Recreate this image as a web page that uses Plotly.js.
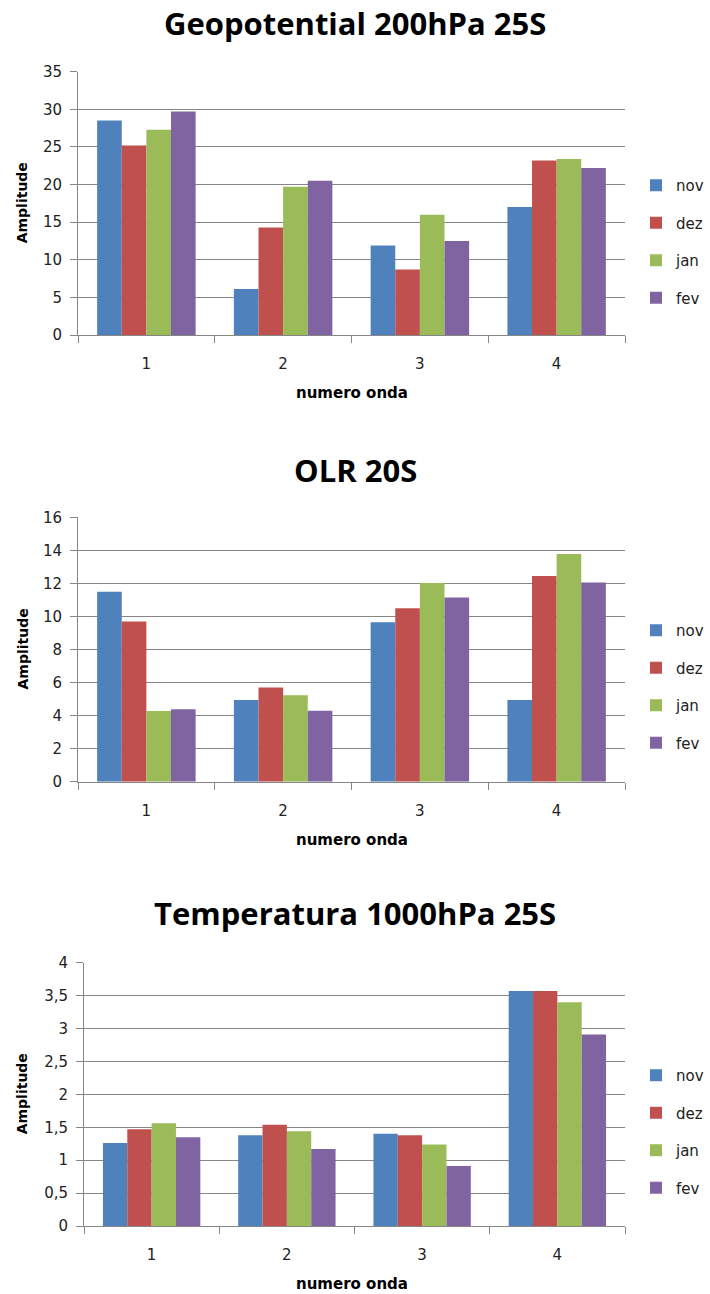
<!DOCTYPE html>
<html>
<head>
<meta charset="utf-8">
<script src="https://cdn.plot.ly/plotly-3.0.1.min.js"></script>
<style>html,body{margin:0;padding:0;background:#fff}#chart{width:710px;height:1294px}</style>
</head>
<body>
<div id="chart"></div>
<script>
const categories = ['1', '2', '3', '4'];
const seriesNames = ['nov', 'dez', 'jan', 'fev'];
const colors = ['#4F81BD', '#C0504D', '#9BBB59', '#8064A2'];

const geoNov = [28.5, 6.1, 11.9, 17.0];
const geoDez = [25.2, 14.3, 8.7, 23.2];
const geoJan = [27.3, 19.7, 16.0, 23.4];
const geoFev = [29.7, 20.5, 12.5, 22.2];

const olrNov = [11.5, 4.95, 9.65, 4.95];
const olrDez = [9.7, 5.7, 10.5, 12.45];
const olrJan = [4.28, 5.23, 12.03, 13.78];
const olrFev = [4.38, 4.3, 11.14, 12.05];

const tempNov = [1.26, 1.38, 1.40, 3.57];
const tempDez = [1.47, 1.54, 1.38, 3.57];
const tempJan = [1.56, 1.44, 1.24, 3.40];
const tempFev = [1.35, 1.17, 0.91, 2.91];

const titles = ['Geopotential 200hPa 25S', 'OLR 20S', 'Temperatura 1000hPa 25S'];
const xTitle = 'numero onda';
const yTitle = 'Amplitude';

const groups = [
  [geoNov, geoDez, geoJan, geoFev],
  [olrNov, olrDez, olrJan, olrFev],
  [tempNov, tempDez, tempJan, tempFev]
];

const W = 710, H = 1294;
const TICKFONT = '"DejaVu Sans", sans-serif';
const TITLEFONT = '"Open Sans", sans-serif';
const panels = [
  {l: 78, r: 625, t: 71.7, b: 335, range: [0, 35], dtick: 5, titleY: 23, legTop: 169},
  {l: 78, r: 625, t: 517.3, b: 781.7, range: [0, 16], dtick: 2, titleY: 470, legTop: 614},
  {l: 84, r: 625, t: 962.7, b: 1226, range: [0, 4], dtick: 0.5, titleY: 913, legTop: 1059}
];

const traces = [];
groups.forEach((grp, p) => {
  grp.forEach((vals, s) => {
    traces.push({
      type: 'bar',
      x: categories,
      y: vals,
      name: seriesNames[s],
      xaxis: p === 0 ? 'x' : 'x' + (p + 1),
      yaxis: p === 0 ? 'y' : 'y' + (p + 1),
      legend: p === 0 ? 'legend' : 'legend' + (p + 1),
      legendgroup: 'g' + p + s,
      marker: {color: colors[s], line: {width: 0}},
      hoverinfo: 'x+y+name'
    });
  });
});

const layout = {
  width: W, height: H,
  margin: {l: 0, r: 0, t: 0, b: 0, autoexpand: false},
  paper_bgcolor: '#fff', plot_bgcolor: '#fff',
  separators: ',.',
  barmode: 'group',
  bargap: 0.28,
  bargroupgap: 0,
  font: {family: TICKFONT, size: 15, color: '#222'},
  showlegend: true,
  annotations: [],
  shapes: []
};

panels.forEach((pn, p) => {
  const sfx = p === 0 ? '' : String(p + 1);
  const yd = [1 - pn.b / H, 1 - pn.t / H];
  const xd = [pn.l / W, pn.r / W];
  layout['xaxis' + sfx] = {
    domain: xd,
    anchor: 'y' + sfx,
    type: 'category',
    showgrid: false,
    showline: true,
    linecolor: '#868686',
    linewidth: 1,
    ticks: 'outside',
    tickson: 'boundaries',
    ticklen: 7,
    tickcolor: '#868686',
    ticklabelstandoff: 15,
    tickfont: {family: TICKFONT, size: 15, color: '#222'},
    automargin: false,
    fixedrange: true
  };
  layout['yaxis' + sfx] = {
    domain: yd,
    anchor: 'x' + sfx,
    range: pn.range,
    dtick: pn.dtick,
    tick0: 0,
    showgrid: true,
    gridcolor: '#868686',
    gridwidth: 1,
    zeroline: false,
    showline: true,
    linecolor: '#868686',
    linewidth: 1,
    ticks: 'outside',
    ticklen: 7,
    tickcolor: '#868686',
    ticklabelstandoff: 5,
    tickfont: {family: TICKFONT, size: 15, color: '#222'},
    automargin: false,
    fixedrange: true
  };
  layout['legend' + (p === 0 ? '' : (p + 1))] = {
    x: 636 / W, xanchor: 'left',
    y: 1 - pn.legTop / H, yanchor: 'top',
    bgcolor: 'rgba(0,0,0,0)',
    font: {family: TICKFONT, size: 15, color: '#222'},
    traceorder: 'grouped',
    tracegroupgap: 15,
    itemwidth: 30
  };
  layout.annotations.push({
    xref: 'paper', yref: 'paper',
    x: 355 / W, y: 1 - pn.titleY / H,
    xanchor: 'center', yanchor: 'middle',
    text: '<b>' + titles[p] + '</b>',
    showarrow: false,
    font: {family: TITLEFONT, size: 31, color: '#000'}
  });
  layout.annotations.push({
    xref: 'paper', yref: 'paper',
    x: 22 / W, y: 1 - ((pn.t + pn.b) / 2) / H,
    xanchor: 'center', yanchor: 'middle',
    textangle: -90,
    text: '<b>' + yTitle + '</b>',
    showarrow: false,
    font: {family: TICKFONT, size: 14, color: '#000'}
  });
  layout.annotations.push({
    xref: 'paper', yref: 'paper',
    x: 352 / W, y: 1 - (pn.b + 58) / H,
    xanchor: 'center', yanchor: 'middle',
    text: '<b>' + xTitle + '</b>',
    showarrow: false,
    font: {family: TICKFONT, size: 15, color: '#000'}
  });
});

Plotly.newPlot('chart', traces, layout, {displayModeBar: false});
</script>
</body>
</html>
